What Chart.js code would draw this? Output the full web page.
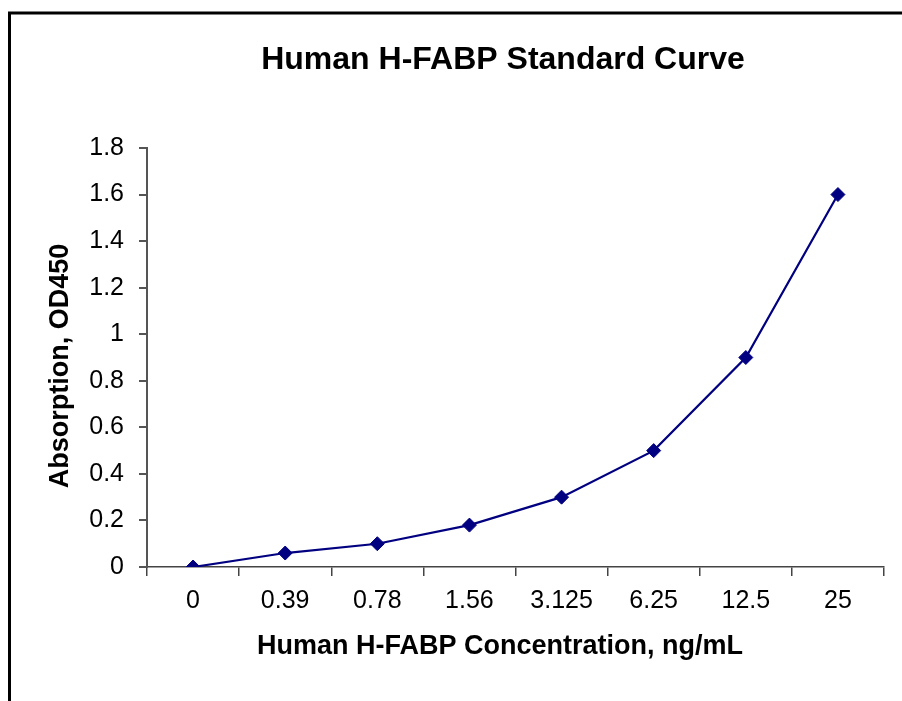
<!DOCTYPE html>
<html>
<head>
<meta charset="utf-8">
<script src="https://cdn.jsdelivr.net/npm/chart.js@4/dist/chart.umd.min.js"></script>
<style>
  html, body { margin: 0; padding: 0; background: #fff; overflow: hidden; }
</style>
</head>
<body>
<canvas id="chart" width="902" height="701"></canvas>
<script>
// data
var concLabels = ["0", "0.39", "0.78", "1.56", "3.125", "6.25", "12.5", "25"];
var odValues = [0, 0.06, 0.1, 0.18, 0.3, 0.5, 0.9, 1.6];
var yTickLabels = ["0", "0.2", "0.4", "0.6", "0.8", "1", "1.2", "1.4", "1.6", "1.8"];

var chartTitle = "Human H-FABP Standard Curve";
var xTitle = "Human H-FABP Concentration, ng/mL";
var yTitle = "Absorption, OD450";

var fontFam = "'Liberation Sans', Arial, sans-serif";

// frame and titles; Excel-style titles are not centred on the plot, so they are placed by hand
var decoPlugin = {
  id: "deco",
  beforeDraw: function (chart) {
    var ctx = chart.ctx;
    ctx.save();
    ctx.strokeStyle = "#000";
    ctx.lineWidth = 3;
    ctx.strokeRect(9.5, 13, 1200, 1000);
    ctx.restore();
  },
  afterDraw: function (chart) {
    var ctx = chart.ctx;
    ctx.save();
    ctx.fillStyle = "#000";
    ctx.textAlign = "center";
    ctx.textBaseline = "middle";
    ctx.font = "bold 32px " + fontFam;
    ctx.fillText(chartTitle, 503, 60);
    ctx.font = "bold 27px " + fontFam;
    ctx.fillText(xTitle, 500, 647);
    ctx.translate(61, 366);
    ctx.rotate(-Math.PI / 2);
    ctx.fillText(yTitle, 0, 0);
    ctx.restore();
  }
};

var ctx = document.getElementById("chart");
new Chart(ctx, {
  type: "line",
  data: {
    labels: concLabels,
    datasets: [{
      label: "OD450",
      data: odValues,
      borderColor: "#000080",
      backgroundColor: "#000080",
      borderWidth: 2.2,
      tension: 0,
      pointStyle: "rectRot",
      pointRadius: 7,
      pointBorderWidth: 1,
      pointBorderColor: "#000080",
      pointBackgroundColor: "#000080"
    }]
  },
  options: {
    responsive: false,
    animation: false,
    layout: { padding: { top: 148, right: 18, left: 0, bottom: 0 } },
    plugins: {
      legend: { display: false },
      tooltip: { enabled: false },
      title: { display: false }
    },
    scales: {
      x: {
        type: "category",
        offset: true,
        grid: { offset: true, drawOnChartArea: false, tickLength: 9, color: "#444", lineWidth: 1.5 },
        border: { color: "#444", width: 1.5 },
        ticks: { color: "#000", padding: 10, font: { family: fontFam, size: 25 } },
        afterFit: function (scale) { scale.height = 134; }
      },
      y: {
        min: 0,
        max: 1.8,
        grid: { drawOnChartArea: false, tickLength: 8, color: "#555", lineWidth: 2 },
        border: { color: "#555", width: 2 },
        ticks: {
          stepSize: 0.2,
          color: "#000",
          padding: 15,
          font: { family: fontFam, size: 25 },
          callback: function (v, i) { return yTickLabels[i]; }
        },
        afterFit: function (scale) { scale.width = 147; }
      }
    }
  },
  plugins: [decoPlugin]
});
</script>
</body>
</html>
